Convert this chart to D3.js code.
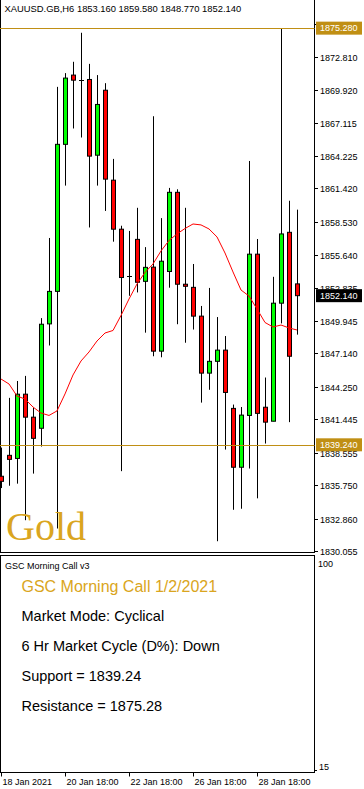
<!DOCTYPE html>
<html>
<head>
<meta charset="utf-8">
<script src="https://cdn.jsdelivr.net/npm/d3@7.9.0/dist/d3.min.js"></script>
<style>
  html, body { margin: 0; padding: 0; background: #fff; }
  svg { display: block; font-family: "Liberation Sans", Arial, sans-serif; }
</style>
</head>
<body>
<svg id="chart" width="364" height="789"></svg>
<script>
// XAUUSD H6 bars
const opens  = [1836.52, 1838.33, 1838.06, 1843.62, 1841.63, 1840.67, 1849.70, 1852.51, 1865.23, 1871.22,
                1870.82, 1870.84, 1864.29, 1869.91, 1862.13, 1857.89, 1853.83, 1857.01, 1853.38, 1854.61,
                1847.34, 1854.23, 1861.08, 1853.13, 1852.86, 1850.37, 1845.44, 1846.46, 1847.43, 1842.39,
                1837.30, 1841.78, 1855.73, 1842.49, 1841.28, 1851.49, 1857.62, 1853.16];
const highs  = [1839.00, 1843.30, 1844.76, 1845.20, 1842.43, 1850.20, 1857.13, 1870.20, 1871.39, 1872.37,
                1874.88, 1872.19, 1871.22, 1870.52, 1863.97, 1858.19, 1857.74, 1859.74, 1856.34, 1867.66,
                1858.85, 1861.46, 1861.34, 1859.74, 1854.88, 1851.25, 1852.81, 1850.29, 1848.65, 1842.72,
                1842.51, 1863.79, 1857.04, 1845.06, 1853.77, 1875.28, 1860.35, 1859.58];
const lows   = [1835.50, 1835.70, 1835.88, 1832.72, 1836.75, 1839.09, 1847.83, 1832.00, 1861.66, 1866.60,
                1865.82, 1858.04, 1861.66, 1859.47, 1856.81, 1836.96, 1852.13, 1852.42, 1848.94, 1846.90,
                1846.81, 1852.83, 1849.67, 1848.07, 1849.21, 1842.89, 1844.00, 1830.90, 1838.83, 1833.62,
                1833.71, 1837.19, 1834.61, 1839.35, 1841.28, 1849.74, 1841.20, 1848.77];
const closes = [1836.08, 1837.98, 1843.62, 1841.63, 1839.80, 1849.67, 1852.51, 1865.23, 1870.96, 1870.78,
                1870.82, 1864.21, 1868.68, 1862.22, 1857.89, 1853.71, 1853.83, 1853.30, 1854.59, 1847.34,
                1855.12, 1861.08, 1853.13, 1852.95, 1850.37, 1845.44, 1846.46, 1847.43, 1843.77, 1837.30,
                1841.81, 1855.73, 1841.96, 1841.20, 1851.49, 1857.48, 1846.90, 1852.14];
// red moving average
const maValues = [1844.93, 1844.50, 1843.46, 1843.20, 1842.51, 1841.99, 1841.78, 1842.17, 1843.64, 1845.28,
                  1846.49, 1847.27, 1848.22, 1848.91, 1849.13, 1850.43, 1851.85, 1853.15, 1854.15, 1854.88,
                  1856.01, 1856.91, 1857.48, 1857.95, 1858.34, 1858.26, 1857.91, 1857.22, 1855.83, 1854.19,
                  1852.63, 1852.11, 1850.99, 1849.82, 1849.43, 1849.60, 1849.35, 1849.17];

const priceTicks = [1830.055, 1832.860, 1835.750, 1838.555, 1841.445, 1844.250, 1847.140, 1849.945,
                    1852.835, 1855.640, 1858.530, 1861.420, 1864.225, 1867.115, 1869.920, 1872.810, 1875.615];
const timeTickIdx = [0, 8, 16, 24, 32];
const timeTickLabels = ['18 Jan 2021', '20 Jan 18:00', '22 Jan 18:00', '26 Jan 18:00', '28 Jan 18:00'];

const support = 1839.24;
const resistance = 1875.28;
const header = 'XAUUSD.GB,H6  1853.160 1859.580 1848.770 1852.140';
const panelTitle = 'GSC Morning Call v3';
const callTitle = 'GSC Morning Call 1/2/2021';
const callLines = ['Market Mode: Cyclical', '6 Hr Market Cycle (D%): Down',
                   'Support = ' + support, 'Resistance = ' + resistance];

const bars = opens.map((o, i) => ({ i, o, h: highs[i], l: lows[i], c: closes[i] }));

const plotRight = 314.5;
const gold = '#C08F14';

const svg = d3.select('#chart');

const x = d3.scalePoint().domain(d3.range(bars.length)).range([1, 297]);
const y = d3.scaleLinear().domain([1830.055, 1872.810]).range([551, 56.7]);

// main panel frame
svg.append('rect')
  .attr('x', 0.5).attr('y', -1)
  .attr('width', plotRight - 0.5).attr('height', 553.5)
  .attr('fill', 'none').attr('stroke', '#000');

const plot = svg.append('g');

// wicks
plot.selectAll('line.wick')
  .data(bars)
  .join('line')
  .attr('class', 'wick')
  .attr('x1', d => x(d.i) + 0.5).attr('x2', d => x(d.i) + 0.5)
  .attr('y1', d => y(d.h)).attr('y2', d => y(d.l))
  .attr('stroke', '#000').attr('stroke-width', 1);

// bodies
plot.selectAll('rect.body')
  .data(bars.filter(d => d.o !== d.c))
  .join('rect')
  .attr('class', 'body')
  .attr('x', d => x(d.i) - 1.5)
  .attr('y', d => y(Math.max(d.o, d.c)))
  .attr('width', 4)
  .attr('height', d => Math.abs(y(d.o) - y(d.c)))
  .attr('fill', d => d.c > d.o ? '#00ff00' : '#ff0000')
  .attr('stroke', '#000').attr('stroke-width', 1);

// doji
plot.selectAll('line.doji')
  .data(bars.filter(d => d.o === d.c))
  .join('line')
  .attr('class', 'doji')
  .attr('x1', d => x(d.i) - 2).attr('x2', d => x(d.i) + 3)
  .attr('y1', d => Math.round(y(d.o)) + 0.5).attr('y2', d => Math.round(y(d.o)) + 0.5)
  .attr('stroke', '#000');

// moving average
plot.append('path')
  .datum(maValues)
  .attr('d', d3.line().x((d, i) => x(i)).y(d => y(d)))
  .attr('fill', 'none')
  .attr('stroke', '#ff0000')
  .attr('stroke-width', 1);

// support / resistance
[resistance, support].forEach(v => {
  svg.append('line')
    .attr('x1', 0).attr('x2', plotRight)
    .attr('y1', Math.round(y(v)) + 0.5).attr('y2', Math.round(y(v)) + 0.5)
    .attr('stroke', gold).attr('stroke-width', 1.2);
});

// Gold watermark
svg.append('text')
  .attr('x', 6).attr('y', 540)
  .attr('font-family', '"Liberation Serif", "Times New Roman", serif')
  .attr('font-size', 40)
  .attr('fill', '#DAA520')
  .text('Gold');

// header
svg.append('text')
  .attr('x', 4.5).attr('y', 11.5)
  .attr('font-size', 9.4)
  .attr('fill', '#000')
  .text(header);

// price axis (the top tick label sits under the resistance tag)
const yAxis = svg.append('g');
priceTicks.forEach((p, k) => {
  const py = Math.round(y(p)) + 0.5;
  yAxis.append('line')
    .attr('x1', plotRight).attr('x2', 318)
    .attr('y1', py).attr('y2', py)
    .attr('stroke', '#000');
  if (k === priceTicks.length - 1) return;
  yAxis.append('text')
    .attr('x', 320).attr('y', py + 3.3)
    .attr('font-size', 9)
    .attr('fill', '#000')
    .text(d3.format('.3f')(p));
});

function priceTag(v, bg) {
  const py = y(v);
  svg.append('rect')
    .attr('x', 316).attr('y', py - 6.5)
    .attr('width', 46).attr('height', 13)
    .attr('fill', bg);
  svg.append('text')
    .attr('x', 320).attr('y', py + 3.3)
    .attr('font-size', 9)
    .attr('fill', '#fff')
    .text(d3.format('.3f')(v));
}
priceTag(resistance, gold);
priceTag(support, gold);
priceTag(closes[closes.length - 1], '#000');

// lower panel
const subTop = 555.5, subBottom = 772.5;
svg.append('rect')
  .attr('x', 0.5).attr('y', subTop)
  .attr('width', plotRight - 0.5).attr('height', subBottom - subTop)
  .attr('fill', 'none').attr('stroke', '#000');

svg.append('text')
  .attr('x', 5).attr('y', 569)
  .attr('font-size', 9).attr('fill', '#000')
  .text(panelTitle);

svg.append('text')
  .attr('x', 318).attr('y', 567)
  .attr('font-size', 9).attr('fill', '#000')
  .text('100');
svg.append('text')
  .attr('x', 319).attr('y', 770)
  .attr('font-size', 9).attr('fill', '#000')
  .text('15');
svg.append('line')
  .attr('x1', plotRight).attr('x2', 317)
  .attr('y1', 770.5).attr('y2', 770.5)
  .attr('stroke', '#000');

svg.append('text')
  .attr('x', 21.5).attr('y', 591.5)
  .attr('font-size', 16)
  .attr('fill', '#DAA520')
  .text(callTitle);

svg.selectAll('text.call')
  .data(callLines)
  .join('text')
  .attr('class', 'call')
  .attr('x', 21.5)
  .attr('y', (d, i) => 621 + i * 30)
  .attr('font-size', 14.5)
  .attr('fill', '#000')
  .text(d => d);

// time axis
const xAxis = svg.append('g');
timeTickIdx.forEach((idx, k) => {
  const px = x(idx) + 0.5;
  xAxis.append('line')
    .attr('x1', px).attr('x2', px)
    .attr('y1', subBottom).attr('y2', subBottom + 4)
    .attr('stroke', '#000');
  xAxis.append('text')
    .attr('x', px + 1).attr('y', 785)
    .attr('font-size', 9)
    .attr('fill', '#000')
    .text(timeTickLabels[k]);
});
</script>
</body>
</html>
